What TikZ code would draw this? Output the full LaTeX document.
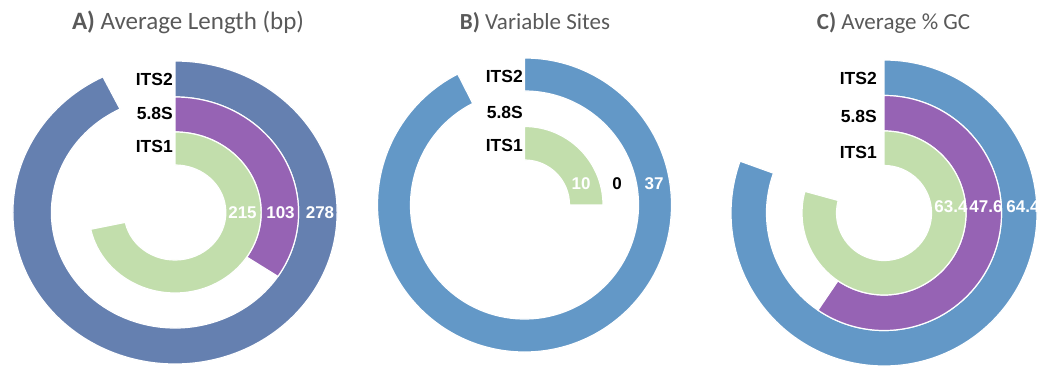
\documentclass[tikz,border=0pt]{standalone}
\usepackage{fontspec}
\setmainfont{Carlito}
\newfontfamily\labelfont{Liberation Sans}

\definecolor{steelA}{RGB}{101,128,176}
\definecolor{skyblue}{RGB}{99,152,199}
\definecolor{violet}{RGB}{150,99,180}
\definecolor{sage}{RGB}{194,222,172}
\definecolor{titlegray}{RGB}{89,89,89}

\tikzset{
  seg/.style={draw=white, line width=1.2pt},
  ttl/.style={anchor=base, inner sep=0pt, text=titlegray},
  part/.style={anchor=east, inner sep=0pt, font=\labelfont\bfseries\fontsize{17.5}{19}\selectfont},
  val/.style={inner sep=0pt, text=white, font=\labelfont\bfseries\fontsize{17}{19}\selectfont},
}

% one ring piece: colour, inner radius, outer radius, sweep (clockwise from 12 o'clock)
\newcommand{\ringpart}[4]{%
  \filldraw[seg, fill=#1] (90:#3) arc[start angle=90, end angle={90-#4}, radius=#3]
    -- ({90-#4}:#2) arc[start angle={90-#4}, end angle=90, radius=#2] -- cycle;}

\begin{document}
\begin{tikzpicture}[x=1pt, y=1pt]
\useasboundingbox (0,0) rectangle (1040,367);

% A) average length, scale 300
\begin{scope}[shift={(175,154.5)}, xscale=1.07]
\ringpart{steelA}{115.5}{151.5}{333.6}
\ringpart{violet}{80.5}{115.5}{123.6}
\ringpart{sage}{47.5}{80.5}{258}
\end{scope}
\node[ttl, font=\fontsize{25}{29}\selectfont] (titleA) at (188,337) {\textbf{A)} Average Length (bp)};
\node[part] (itstwoA) at (173,288) {ITS2};
\node[part] (fiveA) at (173,254) {5.8S};
\node[part] (itsoneA) at (173,221) {ITS1};
\node[val] (valoneA) at (242.5,154) {215};
\node[val] (valfiveA) at (280.5,154) {103};
\node[val] (valtwoA) at (320,154) {278};

% B) variable sites, scale 40
\begin{scope}[shift={(524.5,162)}]
\ringpart{skyblue}{114}{147}{333}
\ringpart{sage}{45}{78.5}{90}
\end{scope}
\node[ttl, font=\fontsize{23}{27}\selectfont] (titleB) at (535,337) {\textbf{B)} Variable Sites};
\node[part] (itstwoB) at (523,291) {ITS2};
\node[part] (fiveB) at (523,255) {5.8S};
\node[part] (itsoneB) at (523,222) {ITS1};
\node[val] (valoneB) at (581,183) {10};
\node[val, text=black] (valfiveB) at (617,183) {0};
\node[val] (valtwoB) at (654,183) {37};

% C) average GC, scale 80
\begin{scope}[shift={(884,154)}]
\ringpart{skyblue}{117.5}{153}{289.8}
\ringpart{violet}{82}{117.5}{214.2}
\ringpart{sage}{47.5}{82}{285.3}
\end{scope}
\node[ttl, font=\fontsize{23}{27}\selectfont] (titleC) at (893.5,337) {\textbf{C)} Average \% GC};
\node[part] (itstwoC) at (877,288.5) {ITS2};
\node[part] (fiveC) at (877,251) {5.8S};
\node[part] (itsoneC) at (877,214.5) {ITS1};
\node[val] (valoneC) at (951,160) {63.4};
\node[val] (valfiveC) at (986,160) {47.6};
\node[val] (valtwoC) at (1023,160) {64.4};
\end{tikzpicture}
\end{document}
